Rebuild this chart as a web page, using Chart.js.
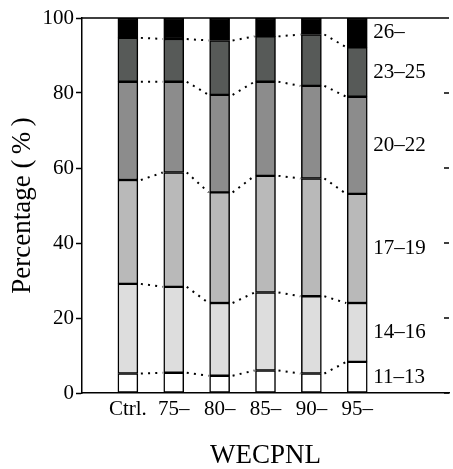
<!DOCTYPE html>
<html>
<head>
<meta charset="utf-8">
<script src="https://cdn.jsdelivr.net/npm/chart.js@4"></script>
<style>body{margin:0;background:#fff}</style>
</head>
<body>
<canvas id="chart" width="453" height="469"></canvas>
<script>
// groups on the x axis (empty slots keep the spacing of the original figure)
const groups = ['', 'Ctrl.', '75–', '80–', '85–', '90–', '95–', '', ''];
const ageBands = ['11–13', '14–16', '17–19', '20–22', '23–25', '26–'];

// percentage of each age band per group
const age11to13 = [null, 5.2, 5.4, 4.6, 6.0, 5.2, 8.3, null, null];
const age14to16 = [null, 23.9, 22.9, 19.4, 20.8, 20.6, 15.7, null, null];
const age17to19 = [null, 27.7, 30.5, 29.5, 31.1, 31.4, 29.1, null, null];
const age20to22 = [null, 26.2, 24.2, 26.0, 25.1, 24.7, 25.9, null, null];
const age23to25 = [null, 11.7, 11.4, 14.5, 12.1, 13.7, 13.2, null, null];
const age26up = [null, 5.3, 5.6, 6.0, 4.9, 4.4, 7.8, null, null];

const yTicks = [0, 20, 40, 60, 80, 100];
const shades = ['#ffffff', '#dddddd', '#b9b9b9', '#8c8c8c', '#575a58', '#000000'];
const series = [age11to13, age14to16, age17to19, age20to22, age23to25, age26up];

const serif = 'Liberation Serif';

const extras = {
    id: 'extras',
    afterDatasetsDraw(chart) {
        const ctx = chart.ctx;
        const area = chart.chartArea;
        const y = chart.scales.y;
        ctx.save();

        // dotted lines joining the segment tops of neighbouring bars
        ctx.strokeStyle = '#000';
        ctx.lineWidth = 2;
        ctx.setLineDash([2, 5.2]);
        for (let d = 0; d < series.length - 1; d++) {
            const bars = chart.getDatasetMeta(d).data;
            let prev = null;
            bars.forEach((bar, i) => {
                if (series[d][i] == null) return;
                if (prev) {
                    ctx.beginPath();
                    ctx.moveTo(prev.x + prev.width / 2 + 3, prev.y);
                    ctx.lineTo(bar.x - bar.width / 2 - 1, bar.y);
                    ctx.stroke();
                }
                prev = bar;
            });
        }
        ctx.setLineDash([]);

        // frame line on top and the inward ticks on the right
        ctx.lineWidth = 1.5;
        ctx.beginPath();
        ctx.moveTo(area.left, area.top);
        ctx.lineTo(area.right, area.top);
        yTicks.forEach(v => {
            const py = y.getPixelForValue(v);
            ctx.moveTo(area.right, py);
            ctx.lineTo(area.right - 5, py);
        });
        ctx.stroke();

        // age band labels next to the last bar
        ctx.fillStyle = '#000';
        ctx.font = '21px "' + serif + '"';
        ctx.textAlign = 'left';
        ctx.textBaseline = 'middle';
        const lastIdx = 6;
        for (let d = 0; d < series.length; d++) {
            const bar = chart.getDatasetMeta(d).data[lastIdx];
            ctx.fillText(ageBands[d], bar.x + bar.width / 2 + 6, (bar.y + bar.base) / 2);
        }
        ctx.restore();
    }
};

new Chart(document.getElementById('chart'), {
    type: 'bar',
    data: {
        labels: groups,
        datasets: series.map((vals, i) => ({
            label: ageBands[i],
            data: vals,
            backgroundColor: shades[i],
            borderColor: '#000',
            borderWidth: 1.5,
            borderSkipped: false,
            barThickness: 20
        }))
    },
    options: {
        responsive: false,
        animation: false,
        layout: { padding: { top: 18, right: 1, left: 0, bottom: 0 } },
        plugins: { legend: { display: false }, tooltip: { enabled: false } },
        scales: {
            x: {
                stacked: true,
                offset: false,
                afterFit: s => { s.height = 76; },
                border: { display: true, color: '#000', width: 1.5 },
                grid: { display: false, drawTicks: false },
                ticks: { color: '#000', font: { family: serif, size: 21 }, padding: 4, autoSkip: false, maxRotation: 0 },
                title: { display: true, text: 'WECPNL', color: '#000', font: { family: serif, size: 27, lineHeight: 1 }, padding: { top: 0, bottom: 0 } }
            },
            y: {
                stacked: true,
                min: 0,
                max: 100,
                afterFit: s => { s.width = 82; },
                afterBuildTicks: s => { s.ticks = yTicks.map(v => ({ value: v })); },
                border: { display: true, color: '#000', width: 1.5 },
                grid: { drawOnChartArea: false, drawTicks: true, tickLength: 6, color: '#000', tickWidth: 1.5 },
                ticks: { color: '#000', font: { family: serif, size: 21 }, padding: 2 },
                title: { display: true, text: 'Percentage (\u2009%\u2009)', color: '#000', font: { family: serif, size: 27, lineHeight: 1 }, padding: { top: 9, bottom: 0 } }
            }
        }
    },
    plugins: [extras]
});
</script>
</body>
</html>
